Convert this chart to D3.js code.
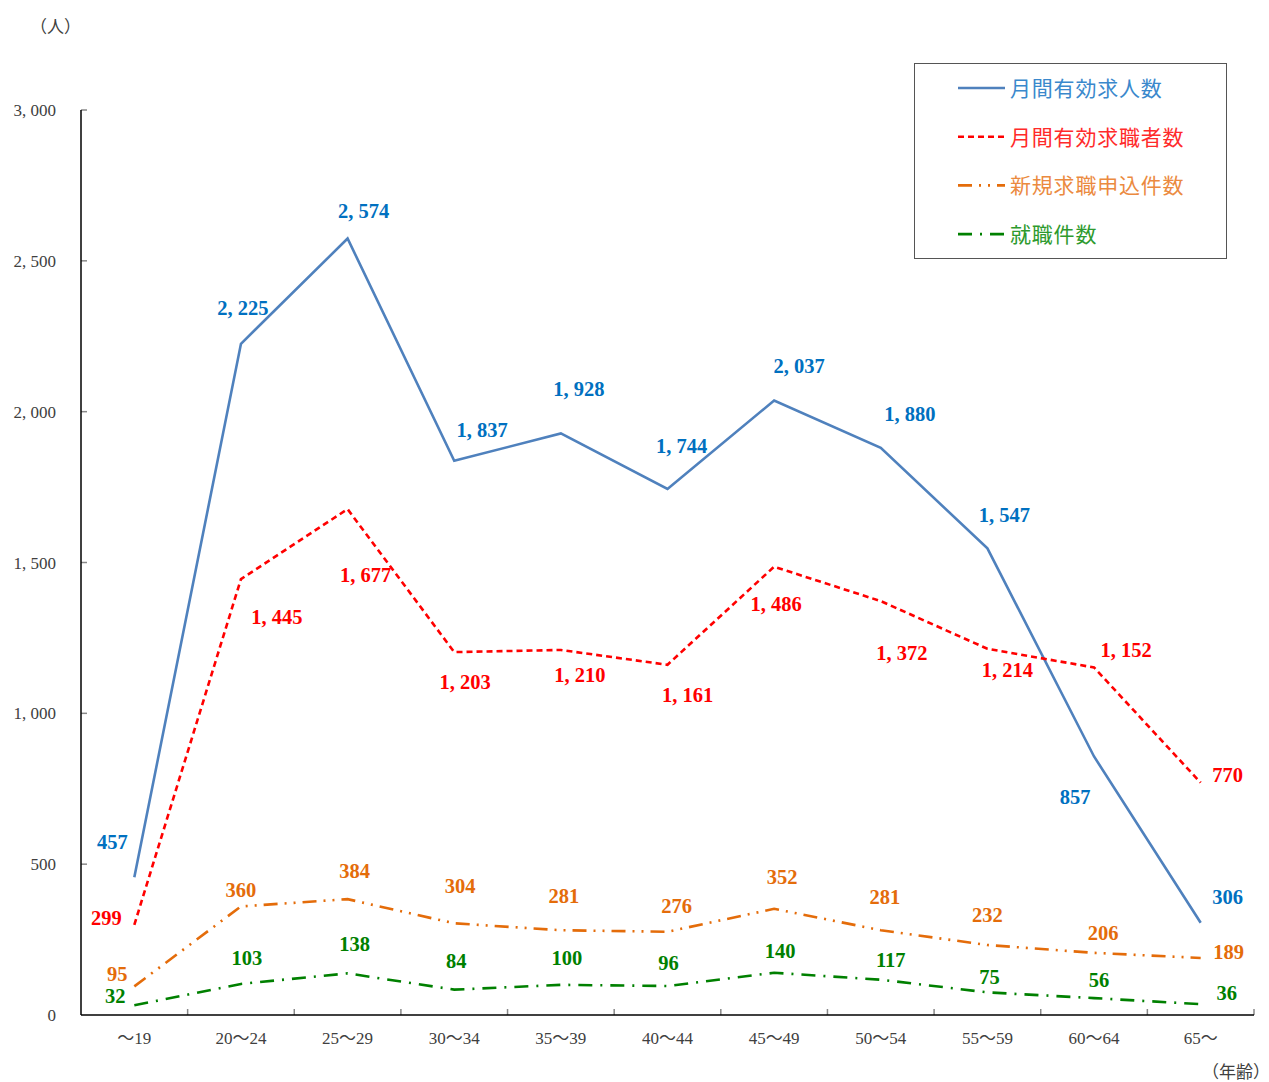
<!DOCTYPE html>
<html>
<head>
<meta charset="utf-8">
<script src="https://cdn.jsdelivr.net/npm/d3@7"></script>
<style>
    body { margin: 0; background: #fff; }
    svg { display: block; }
    .tick-label { font-family: "Liberation Serif", "Noto Sans CJK JP", serif; font-size: 17px; fill: #404040; }
    .unit { font-family: "Noto Sans CJK JP", sans-serif; font-size: 17px; fill: #404040; }
    .value { font-family: "Liberation Serif", "DejaVu Serif", serif; font-size: 20.5px; font-weight: bold; }
    .legend-text { font-family: "Noto Sans CJK JP", sans-serif; font-size: 21px; letter-spacing: 0.8px; }
</style>
</head>
<body>
<svg id="chart" width="1269" height="1082"></svg>
<script>
(function(){
    'use strict';

    /*******************************************************************
     *                              DATA                               *
     *******************************************************************/

    var ageGroups = ['～19', '20～24', '25～29', '30～34', '35～39', '40～44',
                     '45～49', '50～54', '55～59', '60～64', '65～'];

    var jobOffers      = [457, 2225, 2574, 1837, 1928, 1744, 2037, 1880, 1547, 857, 306];
    var jobSeekers     = [299, 1445, 1677, 1203, 1210, 1161, 1486, 1372, 1214, 1152, 770];
    var newApplicants  = [95, 360, 384, 304, 281, 276, 352, 281, 232, 206, 189];
    var placements     = [32, 103, 138, 84, 100, 96, 140, 117, 75, 56, 36];

    var yTicks = [0, 500, 1000, 1500, 2000, 2500, 3000];

    var seriesNames = ['月間有効求人数', '月間有効求職者数', '新規求職申込件数', '就職件数'];

    /*******************************************************************
     *                             LAYOUT                              *
     *******************************************************************/

    var margin = { left: 81, right: 1254, top: 110, bottom: 1015 };

    //Label offsets (dx, dy) from each data point, as placed in the original
    var labelOffsets = [
        [[-22,-35],[2,-36],[16,-28],[28,-31],[18,-44],[14,-43],[25,-35],[29,-34],[17,-33],[-19,41],[27,-26]],
        [[-28,-7],[36,38],[18,66],[11,30],[19,25],[20,30],[2,37],[21,52],[20,21],[32,-17],[27,-8]],
        [[-17,-12],[0,-16],[7,-28],[6,-37],[3,-34],[9,-26],[8,-32],[4,-33],[0,-30],[9,-20],[28,-6]],
        [[-19,-9],[6,-26],[7,-29],[2,-29],[6,-27],[1,-23],[6,-22],[10,-20],[2,-15],[5,-18],[26,-11]]
    ];

    var series = [
        { name: seriesNames[0], values: jobOffers,     stroke: '#4f81bd', dash: null,              label: '#0070c0', legend: '#3a88cc' },
        { name: seriesNames[1], values: jobSeekers,    stroke: '#ff0000', dash: '6,4',             label: '#ff0000', legend: '#ff2a2a' },
        { name: seriesNames[2], values: newApplicants, stroke: '#e46c0a', dash: '14,7,2,7,2,7',    label: '#e46c0a', legend: '#eb8a40' },
        { name: seriesNames[3], values: placements,    stroke: '#008000', dash: '14,8,2,8',        label: '#008000', legend: '#2e9a2e' }
    ];

    var svg = d3.select('#chart');

    var xScale = d3.scaleBand()
        .domain(ageGroups)
        .range([margin.left, margin.right]);

    var yScale = d3.scaleLinear()
        .domain([0, 3000])
        .range([margin.bottom, margin.top]);

    /*******************************************************************
     *                              AXES                               *
     *******************************************************************/

    function fmt(v) {
        return d3.format(',')(v).replace(',', ', ');
    }

    var yAxis = svg.append('g');
    yAxis.selectAll('line.tick')
        .data(yTicks.filter(function(d){ return d > 0; }))
        .enter().append('line')
        .attr('x1', margin.left).attr('x2', margin.left + 6)
        .attr('y1', function(d){ return yScale(d); })
        .attr('y2', function(d){ return yScale(d); })
        .attr('stroke', '#888').attr('stroke-width', 1.5);
    yAxis.selectAll('text')
        .data(yTicks)
        .enter().append('text')
        .attr('class', 'tick-label')
        .attr('x', 56)
        .attr('y', function(d){ return yScale(d) + 6; })
        .attr('text-anchor', 'end')
        .text(fmt);
    yAxis.append('line')
        .attr('x1', margin.left).attr('x2', margin.left)
        .attr('y1', margin.top).attr('y2', margin.bottom)
        .attr('stroke', '#000').attr('stroke-width', 1.5);

    var xAxis = svg.append('g');
    var bounds = ageGroups.slice(1).map(function(a){ return xScale(a); }).concat([margin.right]);
    xAxis.selectAll('line.tick')
        .data(bounds)
        .enter().append('line')
        .attr('x1', function(d){ return d; }).attr('x2', function(d){ return d; })
        .attr('y1', margin.bottom).attr('y2', margin.bottom - 6)
        .attr('stroke', '#888').attr('stroke-width', 1.5);
    xAxis.selectAll('text')
        .data(ageGroups)
        .enter().append('text')
        .attr('class', 'tick-label')
        .attr('x', function(d){ return xScale(d) + xScale.bandwidth() / 2; })
        .attr('y', 1044)
        .attr('text-anchor', 'middle')
        .text(function(d){ return d; });
    xAxis.append('line')
        .attr('x1', margin.left).attr('x2', margin.right)
        .attr('y1', margin.bottom).attr('y2', margin.bottom)
        .attr('stroke', '#000').attr('stroke-width', 1.5);

    svg.append('text').attr('class', 'unit')
        .attr('x', 30).attr('y', 33).text('（人）');
    svg.append('text').attr('class', 'unit')
        .attr('x', 1270).attr('y', 1078).attr('text-anchor', 'end').text('（年齢）');

    /*******************************************************************
     *                              LINES                              *
     *******************************************************************/

    var line = d3.line()
        .x(function(d, i){ return xScale(ageGroups[i]) + xScale.bandwidth() / 2; })
        .y(function(d){ return yScale(d); });

    series.forEach(function(s, k) {
        svg.append('path')
            .attr('d', line(s.values))
            .attr('fill', 'none')
            .attr('stroke', s.stroke)
            .attr('stroke-width', 2.6)
            .attr('stroke-dasharray', s.dash);

        svg.append('g').selectAll('text')
            .data(s.values)
            .enter().append('text')
            .attr('class', 'value')
            .attr('fill', s.label)
            .attr('text-anchor', 'middle')
            .attr('x', function(d, i){ return xScale(ageGroups[i]) + xScale.bandwidth() / 2 + labelOffsets[k][i][0]; })
            .attr('y', function(d, i){ return yScale(d) + labelOffsets[k][i][1] + 7; })
            .text(fmt);
    });

    /*******************************************************************
     *                             LEGEND                              *
     *******************************************************************/

    var legend = svg.append('g');
    legend.append('rect')
        .attr('x', 914.5).attr('y', 63.5)
        .attr('width', 312).attr('height', 195)
        .attr('fill', '#fff').attr('stroke', '#555').attr('stroke-width', 1);

    var rows = legend.selectAll('g.row')
        .data(series)
        .enter().append('g')
        .attr('transform', function(d, i){ return 'translate(0,' + (88 + i * 48.7) + ')'; });
    rows.append('line')
        .attr('x1', 958).attr('x2', 1005)
        .attr('y1', 0).attr('y2', 0)
        .attr('stroke', function(d){ return d.stroke; })
        .attr('stroke-width', 2.6)
        .attr('stroke-dasharray', function(d){ return d.dash; });
    rows.append('text')
        .attr('class', 'legend-text')
        .attr('x', 1010).attr('y', 8)
        .attr('fill', function(d){ return d.legend; })
        .text(function(d){ return d.name; });
})();
</script>
</body>
</html>
